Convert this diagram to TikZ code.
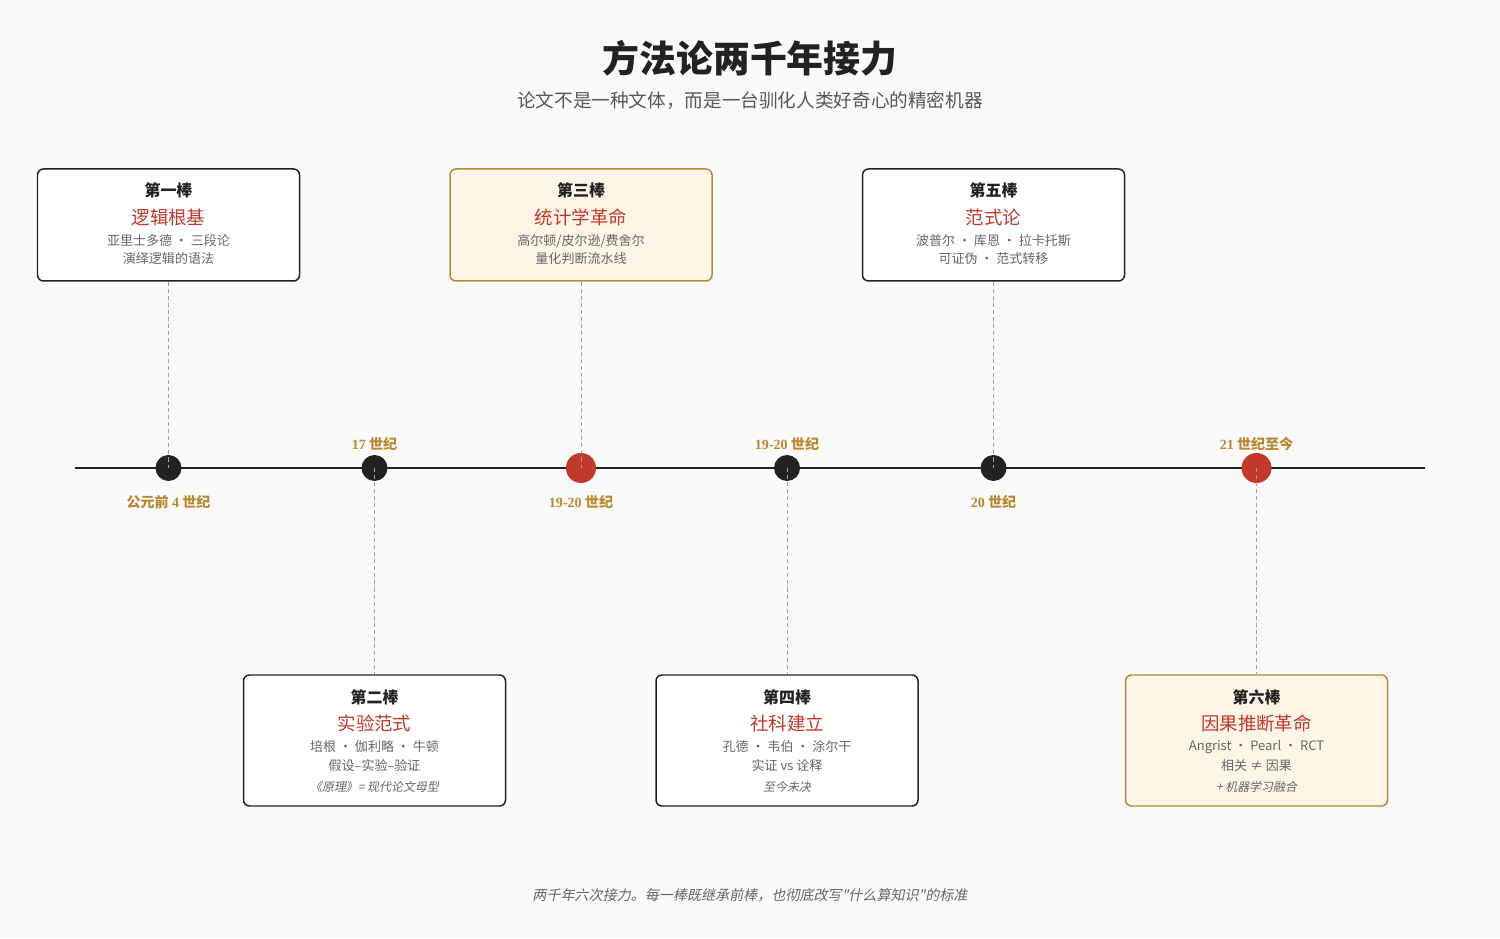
\documentclass[tikz,border=0pt]{standalone}
\usepackage{fontspec}
\setmainfont{Noto Sans CJK SC}
\newfontfamily\cjkit{Noto Sans CJK SC}[FakeSlant=0.2]
\newfontfamily\numfont{Liberation Serif}
\usetikzlibrary{positioning}
\definecolor{RelayBg}{HTML}{FAFAFA}
\definecolor{RelayInk}{HTML}{222222}
\definecolor{RelayRed}{HTML}{C0392B}
\definecolor{RelayGold}{HTML}{B8892E}
\definecolor{RelayCream}{HTML}{FEF5E7}
\definecolor{RelayText}{HTML}{666666}
\definecolor{RelayGrey}{HTML}{A0A0A0}

\tikzset{
  relaybox/.style={draw=RelayInk,line width=0.85pt,rounded corners=0.12cm,fill=white,
    minimum width=5.24cm,minimum height=2.24cm,inner sep=0pt},
  keybox/.style={relaybox,draw=RelayGold,fill=RelayCream},
  lowbox/.style={minimum height=2.62cm},
  milestone/.style={circle,fill=RelayInk,inner sep=0pt,minimum size=0.52cm},
  keystone/.style={milestone,fill=RelayRed,minimum size=0.60cm},
  stick/.style={draw=RelayGrey,line width=0.55pt,dash pattern=on 2.3pt off 1.7pt},
  era/.style={text=RelayGold,font=\bfseries\fontsize{8}{9}\selectfont},
  boxhead/.style={text=RelayInk,font=\bfseries\fontsize{9.1}{10}\selectfont},
  boxtitle/.style={text=RelayRed,font=\fontsize{10.5}{12}\selectfont},
  boxline/.style={text=RelayText,font=\fontsize{7.4}{9}\selectfont},
  boxnote/.style={text=RelayText,font=\cjkit\fontsize{6.8}{8}\selectfont}
}

\begin{document}
\begin{tikzpicture}[x=1cm,y=1cm]
\path[fill=RelayBg,use as bounding box] (0,0) rectangle (30,18.76);
% title
\node[text=RelayInk,font=\bfseries\fontsize{21}{24}\selectfont] (title) at (15,17.60) {方法论两千年接力};
\node[text=RelayText!85!black,font=\fontsize{10.6}{12}\selectfont] (subtitle) at (15,16.74) {论文不是一种文体，而是一台驯化人类好奇心的精密机器};
% timeline
\coordinate (tl-start) at (1.5,9.40);
\coordinate (tl-end) at (28.5,9.40);
\draw[RelayInk,line width=1.7pt] (tl-start) -- (tl-end);
\node[milestone] (d1) at (3.37,9.40) {};
\node[milestone] (d2) at (7.49,9.40) {};
\node[keystone] (d3) at (11.62,9.40) {};
\node[milestone] (d4) at (15.74,9.40) {};
\node[milestone] (d5) at (19.87,9.40) {};
\node[keystone] (d6) at (25.13,9.40) {};
% eras
\node[era] (e1) at (3.37,8.72) {公元前 {\numfont 4} 世纪};
\node[era] (e2) at (7.49,9.88) {{\numfont 17} 世纪};
\node[era] (e3) at (11.62,8.72) {{\numfont 19-20} 世纪};
\node[era] (e4) at (15.74,9.88) {{\numfont 19-20} 世纪};
\node[era] (e5) at (19.87,8.72) {{\numfont 20} 世纪};
\node[era] (e6) at (25.13,9.88) {{\numfont 21} 世纪至今};
% upper relays
\node[relaybox] (b1) at (3.37,14.26) {};
\node[boxhead] (b1h) at ([yshift=0.70cm]b1.center) {第一棒};
\node[boxtitle] (b1t) at ([yshift=0.16cm]b1.center) {逻辑根基};
\node[boxline] (b1a) at ([yshift=-0.32cm]b1.center) {亚里士多德 · 三段论};
\node[boxline] (b1b) at ([yshift=-0.68cm]b1.center) {演绎逻辑的语法};

\node[keybox] (b3) at (11.62,14.26) {};
\node[boxhead] (b3h) at ([yshift=0.70cm]b3.center) {第三棒};
\node[boxtitle] (b3t) at ([yshift=0.16cm]b3.center) {统计学革命};
\node[boxline] (b3a) at ([yshift=-0.32cm]b3.center) {高尔顿/皮尔逊/费舍尔};
\node[boxline] (b3b) at ([yshift=-0.68cm]b3.center) {量化判断流水线};

\node[relaybox] (b5) at (19.87,14.26) {};
\node[boxhead] (b5h) at ([yshift=0.70cm]b5.center) {第五棒};
\node[boxtitle] (b5t) at ([yshift=0.16cm]b5.center) {范式论};
\node[boxline] (b5a) at ([yshift=-0.32cm]b5.center) {波普尔 · 库恩 · 拉卡托斯};
\node[boxline] (b5b) at ([yshift=-0.68cm]b5.center) {可证伪 · 范式转移};
% lower relays
\node[relaybox,lowbox] (b2) at (7.49,3.95) {};
\node[boxhead] (b2h) at ([yshift=0.87cm]b2.center) {第二棒};
\node[boxtitle] (b2t) at ([yshift=0.35cm]b2.center) {实验范式};
\node[boxline] (b2a) at ([yshift=-0.13cm]b2.center) {培根 · 伽利略 · 牛顿};
\node[boxline] (b2b) at ([yshift=-0.51cm]b2.center) {假设–实验–验证};
\node[boxnote] (b2c) at ([yshift=-0.93cm]b2.center) {《原理》= 现代论文母型};

\node[relaybox,lowbox] (b4) at (15.74,3.95) {};
\node[boxhead] (b4h) at ([yshift=0.87cm]b4.center) {第四棒};
\node[boxtitle] (b4t) at ([yshift=0.35cm]b4.center) {社科建立};
\node[boxline] (b4a) at ([yshift=-0.13cm]b4.center) {孔德 · 韦伯 · 涂尔干};
\node[boxline] (b4b) at ([yshift=-0.51cm]b4.center) {实证 vs 诠释};
\node[boxnote] (b4c) at ([yshift=-0.93cm]b4.center) {至今未决};

\node[keybox,lowbox] (b6) at (25.13,3.95) {};
\node[boxhead] (b6h) at ([yshift=0.87cm]b6.center) {第六棒};
\node[boxtitle] (b6t) at ([yshift=0.35cm]b6.center) {因果推断革命};
\node[boxline] (b6a) at ([yshift=-0.13cm]b6.center) {Angrist · Pearl · RCT};
\node[boxline] (b6b) at ([yshift=-0.51cm]b6.center) {相关 ≠ 因果};
\node[boxnote] (b6c) at ([yshift=-0.93cm]b6.center) {+ 机器学习融合};
% sticks
\draw[stick] (b1.south) -- (d1.center);
\draw[stick] (b3.south) -- (d3.center);
\draw[stick] (b5.south) -- (d5.center);
\draw[stick] (d2.center) -- (b2.north);
\draw[stick] (d4.center) -- (b4.north);
\draw[stick] (d6.center) -- (b6.north);
% footer
\node[text=RelayText,font=\cjkit\fontsize{8}{9}\selectfont] (footer) at (15,0.86) {两千年六次接力。每一棒既继承前棒，也彻底改写"什么算知识"的标准};
\end{tikzpicture}
\end{document}
